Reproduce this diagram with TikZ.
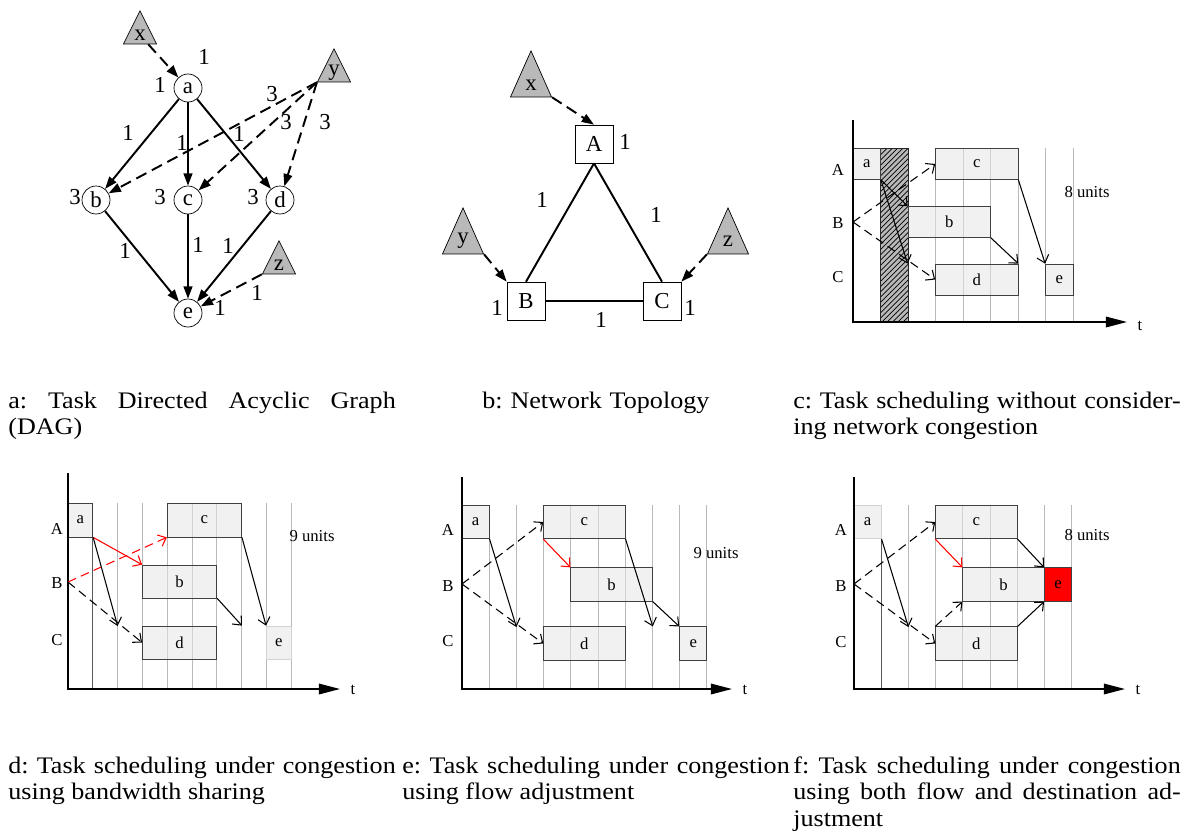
\documentclass[tikz,border=0pt]{standalone}
\usepackage{fontspec}
\setmainfont{Liberation Serif}
\newfontfamily\capfont{Liberation Serif}[FakeStretch=1.1]
\usepackage{tikz}
\usetikzlibrary{arrows.meta}
\usetikzlibrary{shapes.geometric}
\usetikzlibrary{patterns}

\tikzset{
  task/.style={circle, draw, minimum size=0.56cm, inner sep=0pt, font=\fontsize{13}{15}\selectfont},
  src/.style={isosceles triangle, isosceles triangle stretches=true, shape border rotate=90,
    draw, fill=gray!55, inner sep=0pt, anchor=apex, font=\fontsize{13}{15}\selectfont},
  host/.style={rectangle, draw, minimum size=0.76cm, inner sep=0pt, font=\fontsize{13}{15}\selectfont},
  wt/.style={inner sep=0pt, font=\fontsize{13}{15}\selectfont},
  slot/.style={rectangle, draw=gray!50!black, fill=gray!20, fill opacity=0.55, text opacity=1,
    inner sep=0pt, font=\fontsize{9.5}{11}\selectfont},
  faint/.style={draw=gray!35},
  gridline/.style={draw=gray!55, line width=0.4pt},
  axis/.style={line width=0.9pt, -{Triangle[length=12pt, width=6pt]}},
  lbl/.style={inner sep=0pt, font=\fontsize{9.5}{11}\selectfont},
  caption/.style={anchor=base west, inner sep=0pt, text width=7.75cm, align=justify,
    font=\capfont\fontsize{13.5}{15.3}\selectfont\frenchspacing}
}

\begin{document}
\begin{tikzpicture}[x=0.02cm, y=-0.02cm]
\useasboundingbox (0,0) rectangle (1182,835);

% a: task graph
\node[task] (a) at (188,88) {a};
\node[task] (b) at (96,200) {b};
\node[task] (c) at (188,200) {c};
\node[task] (d) at (280,200) {d};
\node[task] (e) at (188,313) {e};
\node[src, minimum width=0.66cm, minimum height=0.66cm] (xa) at (140,10) {x};
\node[src, minimum width=0.66cm, minimum height=0.66cm] (ya) at (334,48) {y};
\node[src, minimum width=0.66cm, minimum height=0.66cm] (za) at (279,240) {z};
\begin{scope}[>={Triangle[length=7pt, width=5pt]}, line width=1.1pt]
    \path [->] (a) edge (b);
    \path [->] (a) edge (c);
    \path [->] (a) edge (d);
    \path [->] (b) edge (e);
    \path [->] (c) edge (e);
    \path [->] (d) edge (e);
    \path [->, dash pattern=on 6.5pt off 3.5pt] (xa) edge (a);
    \path [->, dash pattern=on 6.5pt off 3.5pt] (ya.left corner) edge (b);
    \path [->, dash pattern=on 6.5pt off 3.5pt] (ya.left corner) edge (c);
    \path [->, dash pattern=on 6.5pt off 3.5pt] (ya.left corner) edge (d);
    \path [->, dash pattern=on 6.5pt off 3.5pt] (za.left corner) edge (e);
\end{scope}
\node[wt] (wxa) at (204,57) {1};
\node[wt] (wa) at (160,85) {1};
\node[wt] (wab) at (128,133) {1};
\node[wt] (wac) at (182,143) {1};
\node[wt] (wad) at (239,134) {1};
\node[wt] (wyb) at (272,94) {3};
\node[wt] (wyc) at (286,122) {3};
\node[wt] (wyd) at (325,122) {3};
\node[wt] (wb) at (75,197) {3};
\node[wt] (wc) at (160,197) {3};
\node[wt] (wd) at (253,197) {3};
\node[wt] (wbe) at (125,251) {1};
\node[wt] (wce) at (198,245) {1};
\node[wt] (wde) at (228,246) {1};
\node[wt] (wze) at (257,293) {1};
\node[wt] (we) at (220,308) {1};

% b: network topology
\node[host] (A) at (594,144) {A};
\node[host] (B) at (526,301) {B};
\node[host] (C) at (662,301) {C};
\node[src, minimum width=0.82cm, minimum height=0.92cm] (xb) at (531,50) {x};
\node[src, minimum width=0.82cm, minimum height=0.92cm] (yb) at (463,207) {y};
\node[src, minimum width=0.82cm, minimum height=0.92cm] (zb) at (728,207) {z};
\begin{scope}[>={Triangle[length=7pt, width=5pt]}, line width=1.1pt]
    \path (A.south) edge (B.north);
    \path (A.south) edge (C.north);
    \path (B) edge (C);
    \path [->, dash pattern=on 6.5pt off 3.5pt] (xb.right corner) edge (A.north);
    \path [->, dash pattern=on 6.5pt off 3.5pt] (yb.right corner) edge (B.north west);
    \path [->, dash pattern=on 6.5pt off 3.5pt] (zb.left corner) edge (C.north east);
\end{scope}
\node[wt] (wA) at (625,142) {1};
\node[wt] (wAB) at (542,200) {1};
\node[wt] (wAC) at (656,215) {1};
\node[wt] (wB) at (497,308) {1};
\node[wt] (wC) at (690,308) {1};
\node[wt] (wBC) at (601,320) {1};

% c: schedule, congestion ignored
\foreach \i in {3,...,8}
    \draw[gridline] ({853+27.5*\i},148) -- ({853+27.5*\i},322);
\draw[preaction={fill=gray!55}, pattern=north east lines, draw=gray!30!black] (880.5,148) rectangle (908,322);
\node[slot, minimum width=0.55cm, minimum height=0.62cm] (ac) at (866.75,164) {a};
\node[slot, minimum width=1.65cm, minimum height=0.62cm] (cc) at (976.75,164) {c};
\node[slot, minimum width=1.65cm, minimum height=0.62cm] (bc) at (949.25,222) {b};
\node[slot, minimum width=1.65cm, minimum height=0.62cm] (dc) at (976.75,279.5) {d};
\node[slot, minimum width=0.55cm, minimum height=0.62cm] (ec) at (1059.25,279.5) {e};
\coordinate (Yc) at (853,120);
\coordinate (Oc) at (853,322);
\coordinate (Tc) at (1127,322);
\coordinate (Bc) at (853,222);
\draw[axis] (Yc) -- (Oc) -- (Tc);
\node[lbl] (tc) at (1140,326) {t};
\node[lbl] (rAc) at (838,170) {A};
\node[lbl] (rBc) at (838,223) {B};
\node[lbl] (rCc) at (838,277) {C};
\node[lbl] (uc) at (1087,192) {8 units};
\begin{scope}[>={Straight Barb[length=4pt, width=7pt]}, line width=0.6pt]
    \path [->, dash pattern=on 5pt off 3pt] (Bc) edge (cc.west);
    \path [->, dash pattern=on 5pt off 3pt] (Bc) edge (dc.west);
    \path [->] (ac.south east) edge (bc.north west);
    \path [->] (ac.south east) edge (bc.south west |- dc.north);
    \path [->] (bc.south east) edge (dc.north east);
    \path [->] (cc.south east) edge (ec.north west);
\end{scope}

% d: bandwidth sharing
\foreach \i in {2,...,9}
    \draw[gridline] ({68+24.8*\i},503) -- ({68+24.8*\i},689);
\draw[gridline, draw=gray!70!black] (92.8,503) -- (92.8,689);
\node[slot, minimum width=0.496cm, minimum height=0.68cm] (ad) at (80.4,520) {a};
\node[slot, minimum width=1.488cm, minimum height=0.68cm] (cd) at (204.4,520) {c};
\node[slot, minimum width=1.488cm, minimum height=0.66cm] (bd) at (179.6,581.5) {b};
\node[slot, minimum width=1.488cm, minimum height=0.66cm] (dd) at (179.6,642.5) {d};
\node[slot, faint, minimum width=0.496cm, minimum height=0.66cm] (ed) at (278.8,642.5) {e};
\coordinate (Yd) at (68,473);
\coordinate (Od) at (68,689);
\coordinate (Td) at (340,689);
\coordinate (Bd) at (68,582);
\coordinate (Cd) at (117.6,626);
\draw[axis] (Yd) -- (Od) -- (Td);
\node[lbl] (td) at (353,690) {t};
\node[lbl] (rAd) at (57,529) {A};
\node[lbl] (rBd) at (57,583) {B};
\node[lbl] (rCd) at (57,640) {C};
\node[lbl] (ud) at (312,536) {9 units};
\begin{scope}[>={Straight Barb[length=4pt, width=7pt]}, line width=0.6pt]
    \path [->, red] (ad.south east) edge (bd.north west);
    \path [->, red, dash pattern=on 5pt off 3pt] (Bd) edge (cd.south west);
    \path [->, dash pattern=on 5pt off 3pt] (Bd) edge (dd.west);
    \path [->] (ad.south east) edge (Cd);
    \path [->] (bd.south east) edge (cd.south east |- dd.north);
    \path [->] (cd.south east) edge (ed.north west);
\end{scope}

% e: flow adjustment
\foreach \i in {1,...,9}
    \draw[gridline] ({462+27.2*\i},505) -- ({462+27.2*\i},689);
\node[slot, minimum width=0.544cm, minimum height=0.67cm] (ae) at (475.6,522) {a};
\node[slot, minimum width=1.632cm, minimum height=0.67cm] (ce) at (584.4,522) {c};
\node[slot, minimum width=1.632cm, minimum height=0.67cm] (be) at (611.6,584.5) {b};
\node[slot, minimum width=1.632cm, minimum height=0.67cm] (de) at (584.4,643.5) {d};
\node[slot, minimum width=0.544cm, minimum height=0.67cm] (ee) at (693.2,643.5) {e};
\coordinate (Ye) at (462,477);
\coordinate (Oe) at (462,689);
\coordinate (Te) at (732,689);
\coordinate (Be) at (462,584);
\coordinate (Ce) at (516.4,627);
\draw[axis] (Ye) -- (Oe) -- (Te);
\node[lbl] (te) at (745,690) {t};
\node[lbl] (rAe) at (448,530) {A};
\node[lbl] (rBe) at (448,586) {B};
\node[lbl] (rCe) at (448,641) {C};
\node[lbl] (ue) at (716,553) {9 units};
\begin{scope}[>={Straight Barb[length=4pt, width=7pt]}, line width=0.6pt]
    \path [->, dash pattern=on 5pt off 3pt] (Be) edge (ce.west);
    \path [->, dash pattern=on 5pt off 3pt] (Be) edge (de.west);
    \path [->] (ae.south east) edge (Ce);
    \path [->, red] (ce.south west) edge (be.north west);
    \path [->] (ce.south east) edge (be.south east |- de.north);
    \path [->] (be.south east) edge (ee.north west);
\end{scope}

% f: flow and destination adjustment
\foreach \i in {2,...,8}
    \draw[gridline] ({854+27.2*\i},505) -- ({854+27.2*\i},689);
\draw[gridline, draw=gray!70!black] (881.2,505) -- (881.2,689);
\node[slot, faint, minimum width=0.544cm, minimum height=0.67cm] (af) at (867.6,522) {a};
\node[slot, minimum width=1.632cm, minimum height=0.67cm] (cf) at (976.4,522) {c};
\node[slot, minimum width=1.632cm, minimum height=0.67cm] (bf) at (1003.6,584.5) {b};
\node[slot, fill=red, fill opacity=1, minimum width=0.544cm, minimum height=0.67cm] (ef) at (1058,584.5) {e};
\node[slot, minimum width=1.632cm, minimum height=0.67cm] (df) at (976.4,643.5) {d};
\coordinate (Yf) at (854,477);
\coordinate (Of) at (854,689);
\coordinate (Tf) at (1125,689);
\coordinate (Bf) at (854,584);
\coordinate (Cf) at (908.4,627);
\draw[axis] (Yf) -- (Of) -- (Tf);
\node[lbl] (tf) at (1138,690) {t};
\node[lbl] (rAf) at (841,530) {A};
\node[lbl] (rBf) at (841,586) {B};
\node[lbl] (rCf) at (841,642) {C};
\node[lbl] (uf) at (1087,535) {8 units};
\begin{scope}[>={Straight Barb[length=4pt, width=7pt]}, line width=0.6pt]
    \path [->, dash pattern=on 5pt off 3pt] (Bf) edge (cf.west);
    \path [->, dash pattern=on 5pt off 3pt] (Bf) edge (df.west);
    \path [->] (af.south east) edge (Cf);
    \path [->, red] (cf.south west) edge (bf.north west);
    \path [->, dash pattern=on 5pt off 3pt] (df.north west) edge (bf.south west);
    \path [->] (cf.south east) edge (ef.north west);
    \path [->] (df.north east) edge (ef.south west);
\end{scope}

% captions
\node[caption] (capa) at (8,408) {a: Task Directed Acyclic Graph\linebreak (DAG)};
\node[caption, align=left] (capb) at (482,408) {b: Network Topology};
\node[caption] (capc) at (793,408) {c: Task scheduling without consider-\linebreak ing network congestion};
\node[caption] (capd) at (8,773) {d: Task scheduling under congestion\linebreak using bandwidth sharing};
\node[caption] (cape) at (402,773) {e: Task scheduling under congestion\linebreak using flow adjustment};
\node[caption] (capf) at (793,773) {f: Task scheduling under congestion\linebreak using both flow and destination ad-\linebreak justment};
\end{tikzpicture}
\end{document}
